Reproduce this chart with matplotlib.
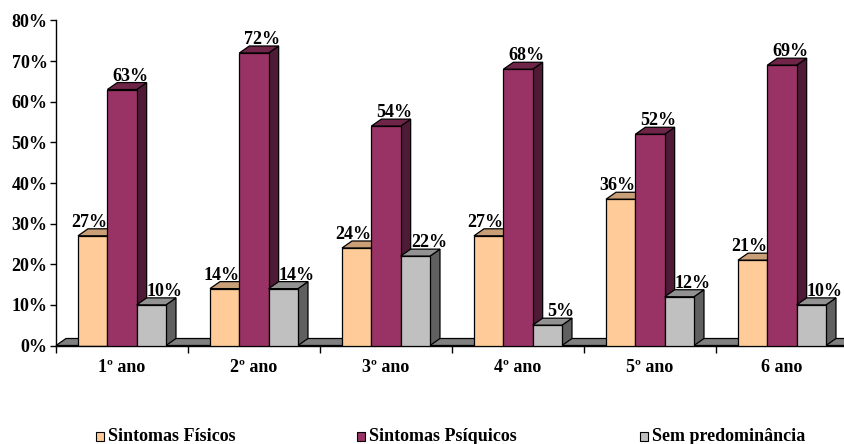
import matplotlib
matplotlib.use("Agg")
import matplotlib.pyplot as plt
from matplotlib.patches import Polygon, Rectangle

categories = ["1º ano", "2º ano", "3º ano", "4º ano", "5º ano", "6 ano"]
series_names = ["Sintomas Físicos", "Sintomas Psíquicos", "Sem predominância"]
fisicos = [27, 14, 24, 27, 36, 21]
psiquicos = [63, 72, 54, 68, 52, 69]
sem_pred = [10, 14, 22, 5, 12, 10]
y_ticks = [0, 10, 20, 30, 40, 50, 60, 70, 80]

series = [fisicos, psiquicos, sem_pred]
front_colors = ["#FFCC99", "#993366", "#C0C0C0"]
top_colors = ["#C99F78", "#6E2548", "#929292"]
side_colors = ["#A88560", "#4F1A36", "#606060"]
label_off_px = [-3.5, 8, 13.5]

plt.rcParams["font.family"] = ["Liberation Serif", "DejaVu Serif"]
plt.rcParams["font.weight"] = "bold"

W, H = 844, 444
fig = plt.figure(figsize=(W / 100, H / 100), dpi=100)
x0px, y0px, catpx, hpx = 56, 345.5, 132, 325
ax = fig.add_axes([x0px / W, (H - y0px) / H, catpx * 6 / W, hpx / H])
ax.set_xlim(0, 6)
ax.set_ylim(0, 80)

dx = 10 / catpx
dy = 7 / hpx * 80
bw = 29.33 / catpx
lw = 0.9

# floor
floor = Polygon([(0, 0), (6.2, 0), (6.2 + dx, dy), (dx, dy)], closed=True,
                facecolor="#808080", edgecolor="black", lw=lw, zorder=1, clip_on=False)
ax.add_patch(floor)

for i in range(len(categories)):
    for j, vals in enumerate(series):
        v = vals[i]
        x0 = i + (22 + 29.33 * j) / catpx
        z = 2 + i * 3 + j
        ax.add_patch(Polygon([(x0 + bw, 0), (x0 + bw + dx, dy), (x0 + bw + dx, v + dy), (x0 + bw, v)],
                             closed=True, facecolor=side_colors[j], edgecolor="black", lw=lw, zorder=z))
        ax.add_patch(Polygon([(x0, v), (x0 + bw, v), (x0 + bw + dx, v + dy), (x0 + dx, v + dy)],
                             closed=True, facecolor=top_colors[j], edgecolor="black", lw=lw, zorder=z))
        ax.add_patch(Rectangle((x0, 0), bw, v, facecolor=front_colors[j], edgecolor="black", lw=lw, zorder=z))
        ax.text(x0 + bw / 2 + label_off_px[j] / catpx, v + dy + 0.5, f"{v}%",
                ha="center", va="baseline", fontsize=13, fontweight="bold", zorder=50)

for s in ["top", "right"]:
    ax.spines[s].set_visible(False)
ax.spines["left"].set_linewidth(1.0)
ax.spines["bottom"].set_linewidth(1.0)
ax.spines["left"].set_zorder(60)

ax.set_yticks(y_ticks)
ax.set_yticklabels([f"{t}%" for t in y_ticks], fontsize=13, fontweight="bold")
ax.tick_params(axis="y", direction="out", length=4, width=1, pad=2)

ax.set_xticks(range(0, 7))
ax.set_xticklabels([])
ax.tick_params(axis="x", which="major", direction="out", length=5, width=1)
ax.set_xticks([i + 0.5 for i in range(6)], minor=True)
ax.set_xticklabels(categories, minor=True, fontsize=13, fontweight="bold")
ax.tick_params(axis="x", which="minor", length=0, pad=10)

# legend
leg_x = [96, 357, 640]
for k, name in enumerate(series_names):
    fig.patches.append(Rectangle((leg_x[k] / W, (H - 441) / H), 8 / W, 9 / H,
                                 transform=fig.transFigure, facecolor=front_colors[k],
                                 edgecolor="black", lw=0.8, figure=fig))
    fig.text((leg_x[k] + 12) / W, (H - 436.5) / H, name, ha="left", va="center",
             fontsize=13, fontweight="bold")

fig.savefig("out.png", dpi=100)
